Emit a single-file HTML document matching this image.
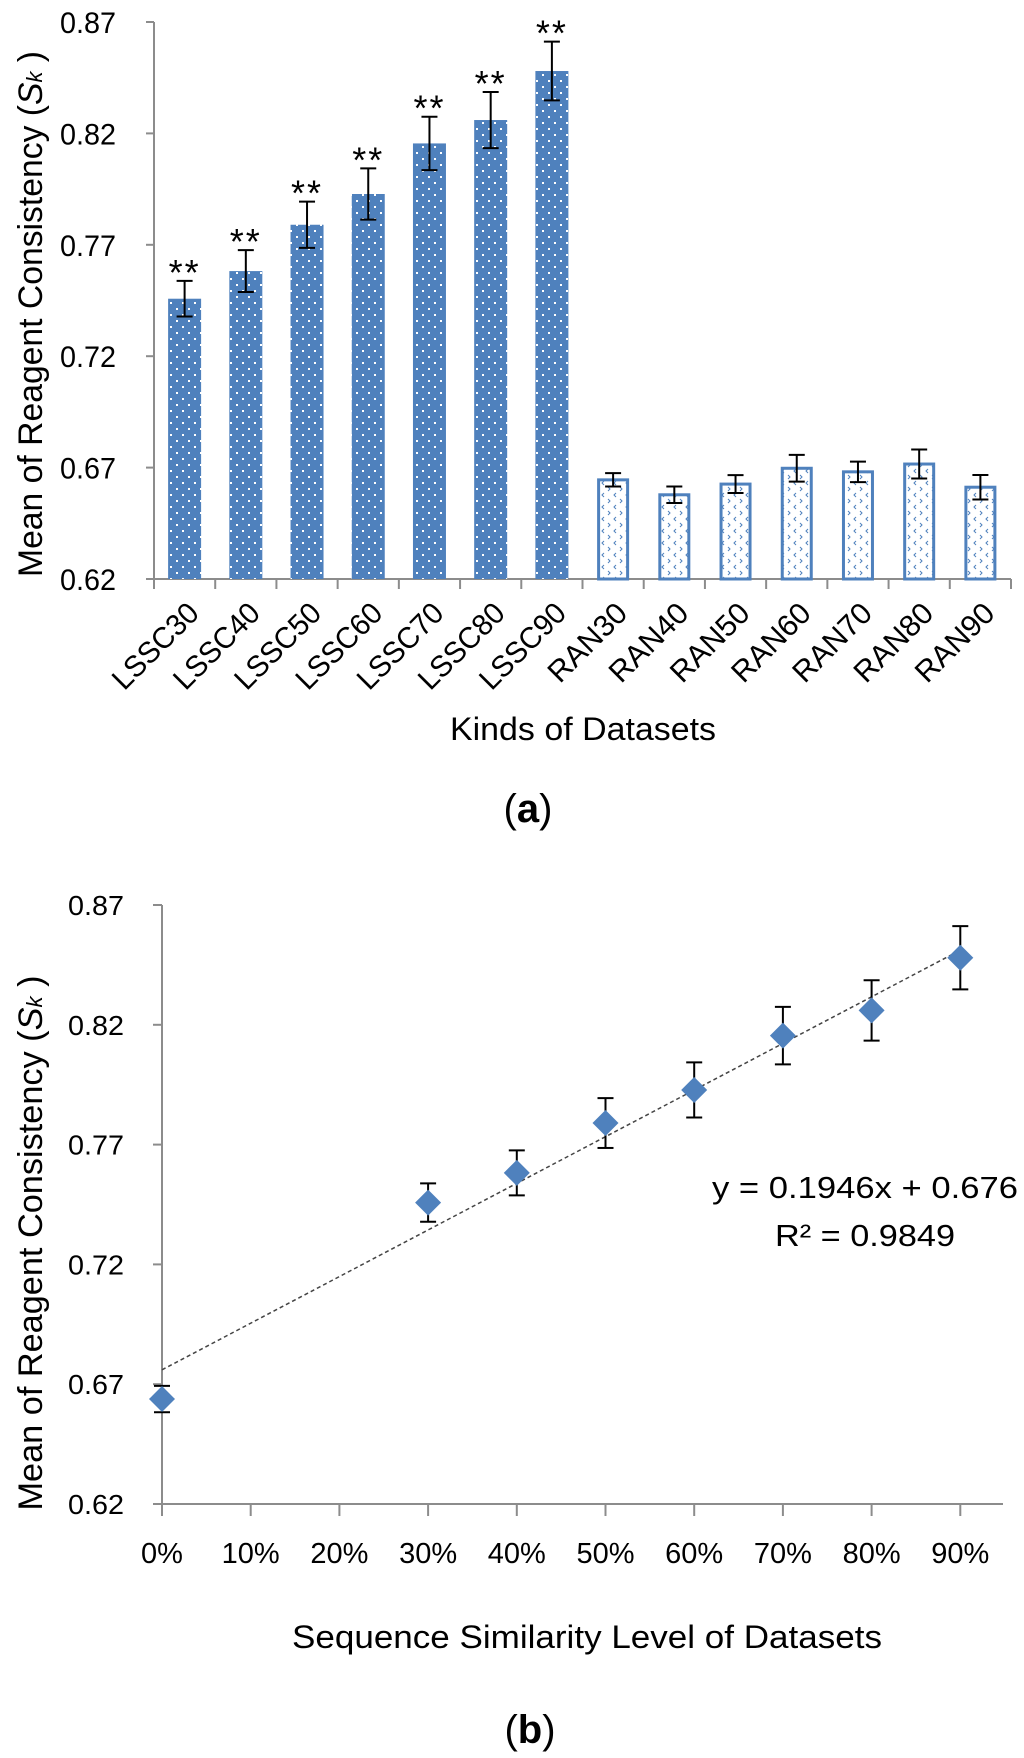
<!DOCTYPE html>
<html><head><meta charset="utf-8"><style>
html,body{margin:0;padding:0;background:#fff;}
svg{display:block;}
text{font-family:"Liberation Sans",sans-serif;fill:#000;}
</style></head><body>
<svg id="c" width="1024" height="1758" viewBox="0 0 1024 1758" xmlns="http://www.w3.org/2000/svg">
<defs>
<pattern id="dots" width="12" height="12" patternUnits="userSpaceOnUse">
<rect width="12" height="12" fill="#4f81bd"/>
<rect x="2" y="2" width="2" height="2" fill="#fff"/>
<rect x="8" y="8" width="2" height="2" fill="#fff"/>
</pattern>
<pattern id="chev" width="12" height="12" patternUnits="userSpaceOnUse">
<rect width="12" height="12" fill="#fff"/>
<path d="M4 1 L2 3 L4 5" stroke="#4f81bd" stroke-width="1" fill="none"/>
<path d="M8 7 L10 9 L8 11" stroke="#4f81bd" stroke-width="1" fill="none"/>
</pattern>
</defs>
<g id="chartA"></g>
<g id="chartB"></g>
</svg>
<script>
const categories = ["LSSC30","LSSC40","LSSC50","LSSC60","LSSC70","LSSC80","LSSC90","RAN30","RAN40","RAN50","RAN60","RAN70","RAN80","RAN90"];
const meanValues = [0.7458,0.7582,0.779,0.7928,0.8155,0.826,0.848,0.6645,0.6578,0.6626,0.6697,0.6681,0.6716,0.6612];
const errValues = [0.008,0.0094,0.0104,0.0115,0.012,0.0126,0.0132,0.003,0.0037,0.004,0.006,0.0046,0.0065,0.0055];
const yTicks = ["0.62","0.67","0.72","0.77","0.82","0.87"];
const simLevels = [0,30,40,50,60,70,80,90];
const simMeans = [0.6638,0.7458,0.7582,0.779,0.7928,0.8155,0.826,0.848];
const simErrs = [0.0055,0.008,0.0094,0.0104,0.0115,0.012,0.0126,0.0132];
const xTicksB = ["0%","10%","20%","30%","40%","50%","60%","70%","80%","90%"];
const trendSlope = 0.1946, trendIntercept = 0.676;

const NS="http://www.w3.org/2000/svg";
function mk(parent,tag,attrs,txt){const e=document.createElementNS(NS,tag);for(const k in attrs)e.setAttribute(k,attrs[k]);if(txt!==undefined)e.textContent=txt;parent.appendChild(e);return e;}

// ---- Chart A ----
const A=document.getElementById('chartA');
const aL=154,aR=1011,aTop=22,aBot=579,yMin=0.62,yMax=0.87;
const yA=v=>aBot-(v-yMin)/(yMax-yMin)*(aBot-aTop);
const cw=(aR-aL)/categories.length;
const xA=i=>aL+cw*(i+0.5);
let e;
e=mk(A,'line',{x1:aL,y1:aTop,x2:aL,y2:aBot,stroke:'#8c8c8c','stroke-width':2});


e=mk(A,'line',{x1:aL-8,y1:aBot,x2:aR,y2:aBot,stroke:'#8c8c8c','stroke-width':2});


yTicks.forEach(t=>{const y=yA(parseFloat(t));
 e=mk(A,'line',{x1:aL-8,y1:y,x2:aL,y2:y,stroke:'#8c8c8c','stroke-width':2});
 
 
 e=mk(A,'text',{x:aL-38,y:y+11,'text-anchor':'end','font-size':30,textLength:56,lengthAdjust:'spacingAndGlyphs'},t);
 
 
});
for(let i=0;i<=categories.length;i++){
 e=mk(A,'line',{x1:aL+cw*i,y1:aBot,x2:aL+cw*i,y2:aBot+10,stroke:'#8c8c8c','stroke-width':2});
 
 
}
categories.forEach((c,i)=>{
 const cx=xA(i),v=meanValues[i],er=errValues[i],isR=c.startsWith('RAN');
 const y=yA(v);
 if(isR){
  e=mk(A,'rect',{x:cx-14.5,y:y,width:29,height:aBot-y,fill:'url(#chev)',stroke:'#4f81bd','stroke-width':3});
 } else {
  e=mk(A,'rect',{x:cx-16.5,y:y,width:33,height:aBot-y,fill:'url(#dots)'});
 }
 
 
 const y1=yA(v+er),y2=yA(v-er);
 const g=mk(A,'g',{stroke:'#000','stroke-width':2});
 
 
 mk(g,'line',{x1:cx,y1:y1,x2:cx,y2:y2});
 mk(g,'line',{x1:cx-8,y1:y1,x2:cx+8,y2:y1});
 mk(g,'line',{x1:cx-8,y1:y2,x2:cx+8,y2:y2});
 if(!isR){
  e=mk(A,'text',{x:cx,y:y1+4,'text-anchor':'middle','font-size':36,'letter-spacing':2},'**');
  
  
 }
 e=mk(A,'text',{x:0,y:0,'text-anchor':'end','font-size':30,textLength:isR?98:108,lengthAdjust:'spacingAndGlyphs',transform:`translate(${cx+16},${aBot+36}) rotate(-45)`},c);
 
 
});
e=mk(A,'text',{x:0,y:0,'text-anchor':'middle','font-size':34,textLength:526,lengthAdjust:'spacingAndGlyphs',transform:'translate(42,314) rotate(-90)'});
e.innerHTML='Mean of Reagent Consistency (<tspan font-style="italic">S</tspan><tspan font-style="italic" font-size="22">k</tspan> )';


e=mk(A,'text',{x:583,y:740,'text-anchor':'middle','font-size':32,textLength:266,lengthAdjust:'spacingAndGlyphs'},'Kinds of Datasets');


e=mk(A,'text',{x:528,y:822,'text-anchor':'middle','font-size':40,'font-family':'Liberation Serif, serif'});
e.innerHTML='(<tspan font-weight="bold">a</tspan>)';



// ---- Chart B ----
const B=document.getElementById('chartB');
const bL=162,bR=1003,bTop=905,bBot=1504,px=88.7;
const yB=v=>bBot-(v-yMin)/(yMax-yMin)*(bBot-bTop);
const xB=p=>bL+p/10*px;
e=mk(B,'line',{x1:bL,y1:bTop,x2:bL,y2:bBot,stroke:'#8c8c8c','stroke-width':2});


e=mk(B,'line',{x1:bL-9,y1:bBot,x2:bR,y2:bBot,stroke:'#8c8c8c','stroke-width':2});


yTicks.forEach(t=>{const y=yB(parseFloat(t));
 e=mk(B,'line',{x1:bL-9,y1:y,x2:bL,y2:y,stroke:'#8c8c8c','stroke-width':2});
 
 
 e=mk(B,'text',{x:bL-38,y:y+10,'text-anchor':'end','font-size':28,textLength:56,lengthAdjust:'spacingAndGlyphs'},t);
 
 
});
xTicksB.forEach((t,i)=>{const x=xB(i*10);
 e=mk(B,'line',{x1:x,y1:bBot,x2:x,y2:bBot+12,stroke:'#8c8c8c','stroke-width':2});
 
 
 e=mk(B,'text',{x:x,y:1563,'text-anchor':'middle','font-size':29},t);
 
 
});
e=mk(B,'line',{x1:xB(0),y1:yB(trendIntercept),x2:xB(90),y2:yB(trendIntercept+trendSlope*0.9),stroke:'#444','stroke-width':1.5,'stroke-dasharray':'4 3'});


simLevels.forEach((p,i)=>{
 const x=xB(p),v=simMeans[i],er=simErrs[i];
 const y1=yB(v+er),y2=yB(v-er);
 const g=mk(B,'g',{stroke:'#000','stroke-width':2});
 
 
 mk(g,'line',{x1:x,y1:y1,x2:x,y2:y2});
 mk(g,'line',{x1:x-8,y1:y1,x2:x+8,y2:y1});
 mk(g,'line',{x1:x-8,y1:y2,x2:x+8,y2:y2});
 const y=yB(v);
 e=mk(B,'path',{d:`M${x} ${y-13} L${x+13} ${y} L${x} ${y+13} L${x-13} ${y} Z`,fill:'#4f81bd'});
 
 
});
e=mk(B,'text',{x:865,y:1198,'text-anchor':'middle','font-size':31,textLength:306,lengthAdjust:'spacingAndGlyphs'},'y = 0.1946x + 0.676');


e=mk(B,'text',{x:865,y:1246,'text-anchor':'middle','font-size':31,textLength:180,lengthAdjust:'spacingAndGlyphs'},'R² = 0.9849');


e=mk(B,'text',{x:0,y:0,'text-anchor':'middle','font-size':34,textLength:535,lengthAdjust:'spacingAndGlyphs',transform:'translate(42,1243) rotate(-90)'});
e.innerHTML='Mean of Reagent Consistency (<tspan font-style="italic">S</tspan><tspan font-style="italic" font-size="22">k</tspan> )';


e=mk(B,'text',{x:587,y:1648,'text-anchor':'middle','font-size':32,textLength:590,lengthAdjust:'spacingAndGlyphs'},'Sequence Similarity Level of Datasets');


e=mk(B,'text',{x:530,y:1743,'text-anchor':'middle','font-size':40,'font-family':'Liberation Serif, serif'});
e.innerHTML='(<tspan font-weight="bold">b</tspan>)';


</script>
</body></html>
